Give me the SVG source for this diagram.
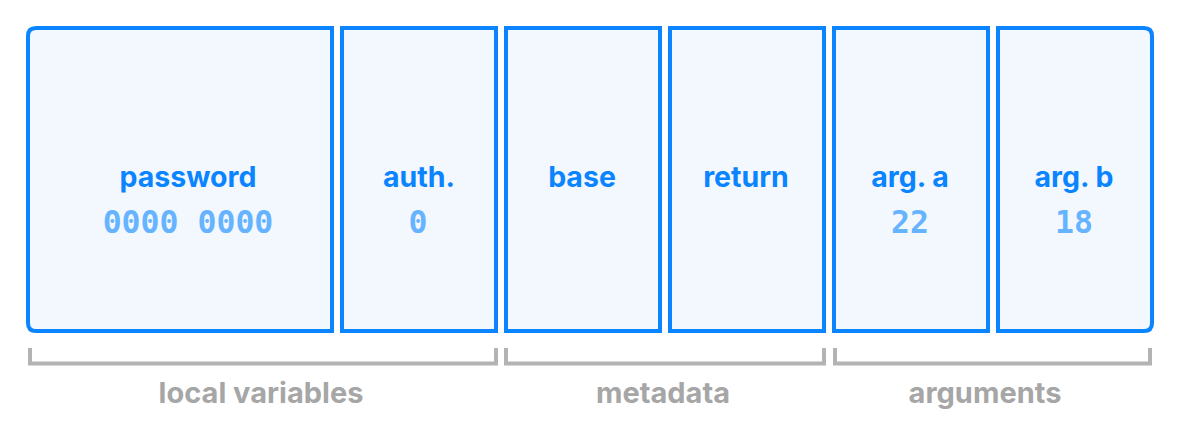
<svg xmlns="http://www.w3.org/2000/svg" width="1182" height="430" viewBox="0 0 1182 430">
<style>
.box{fill:#f3f8fe;stroke:#0a84ff;stroke-width:4}
.lbl{font-family:Inter,"Liberation Sans",sans-serif;font-weight:700;font-size:28.5px;fill:#0a84ff;text-anchor:middle}
.val{font-family:"DejaVu Sans Mono","Liberation Mono",monospace;font-weight:700;font-size:31.5px;fill:#66b3ff;text-anchor:middle}
.brk{fill:none;stroke:#b3b3b3;stroke-width:4}
.grp{font-family:Inter,"Liberation Sans",sans-serif;font-weight:700;font-size:29px;fill:#a6a6a6;text-anchor:middle}
</style>
<rect width="1182" height="430" fill="#ffffff"/>
<g id="password">
<path class="box" d="M36 28 H332 V331 H36 Q28 331 28 323 V36 Q28 28 36 28 Z"/>
<text class="lbl" x="188" y="187">password</text>
<text class="val" x="188" y="233">0000 0000</text>
</g>
<g id="auth">
<rect class="box" x="342" y="28" width="154" height="303"/>
<text class="lbl" x="419" y="187">auth.</text>
<text class="val" x="418" y="233">0</text>
</g>
<g id="base">
<rect class="box" x="506" y="28" width="154" height="303"/>
<text class="lbl" x="582" y="187">base</text>
</g>
<g id="return">
<rect class="box" x="670" y="28" width="154" height="303"/>
<text class="lbl" x="746" y="187">return</text>
</g>
<g id="arga">
<rect class="box" x="834" y="28" width="154" height="303"/>
<text class="lbl" x="910" y="187">arg. a</text>
<text class="val" x="910" y="233">22</text>
</g>
<g id="argb">
<path class="box" d="M998 28 H1144 Q1152 28 1152 36 V323 Q1152 331 1144 331 H998 Z"/>
<text class="lbl" x="1074" y="187">arg. b</text>
<text class="val" x="1074" y="233">18</text>
</g>
<g id="connectors">
<path class="brk" d="M30 348 V363.5 H496 V348"/>
<path class="brk" d="M506 348 V363.5 H824 V348"/>
<path class="brk" d="M835 348 V363.5 H1150 V348"/>
</g>
<g id="labels">
<text class="grp" x="261" y="403">local variables</text>
<text class="grp" x="663" y="403">metadata</text>
<text class="grp" x="985" y="403">arguments</text>
</g>
</svg>
